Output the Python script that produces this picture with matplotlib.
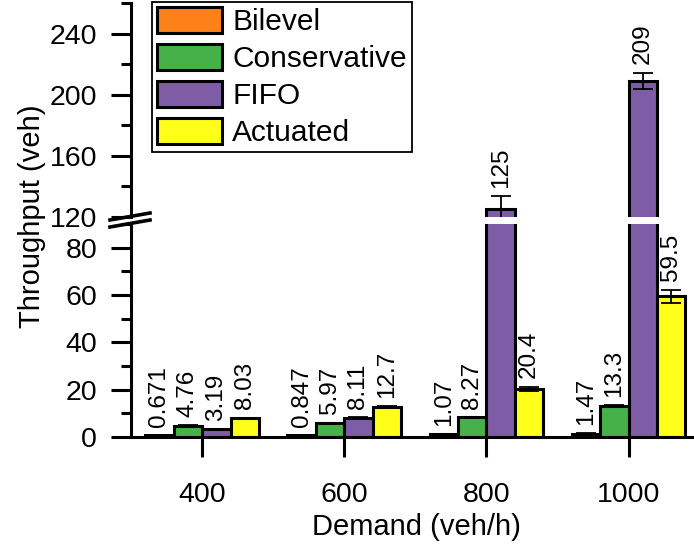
import matplotlib
matplotlib.use("Agg")
import matplotlib.pyplot as plt
from matplotlib.lines import Line2D
import numpy as np

plt.rcParams['font.family'] = ['Liberation Sans', 'DejaVu Sans']

demand = [400, 600, 800, 1000]
series_names = ["Bilevel", "Conservative", "FIFO", "Actuated"]
bilevel = [0.671, 0.847, 1.07, 1.47]
conservative = [4.76, 5.97, 8.27, 13.3]
fifo = [3.19, 8.11, 125, 209]
actuated = [8.03, 12.7, 20.4, 59.5]
bilevel_err = [0.05, 0.05, 0.05, 0.05]
conservative_err = [0.1, 0.1, 0.15, 0.2]
fifo_err = [0.1, 0.2, 8.5, 5.5]
actuated_err = [0.2, 0.4, 0.8, 2.8]
value_labels = [["0.671", "0.847", "1.07", "1.47"],
                ["4.76", "5.97", "8.27", "13.3"],
                ["3.19", "8.11", "125", "209"],
                ["8.03", "12.7", "20.4", "59.5"]]
colors = ["#FB8118", "#46B149", "#7F5CA6", "#FFFF1A"]

values = [bilevel, conservative, fifo, actuated]
errors = [bilevel_err, conservative_err, fifo_err, actuated_err]

W, H = 694, 549
fig = plt.figure(figsize=(W / 100, H / 100), dpi=100)

def fx(px):
    return px / W

def fy(py):
    return (H - py) / H

left = fx(131)
width = fx(694) - left
ax_lo = fig.add_axes([left, fy(437), width, fy(224) - fy(437)])
ax_hi = fig.add_axes([left, fy(217), width, fy(3) - fy(217)])

bw = 40
offsets = [-60, -20, 20, 60]
lw = 2.2
fs = 20.5

for ax in (ax_lo, ax_hi):
    for i, (name, vals, errs, col) in enumerate(zip(series_names, values, errors, colors)):
        xs = np.array(demand) + offsets[i]
        ax.bar(xs, vals, width=bw, color=col, edgecolor='black', linewidth=lw,
               label=name, zorder=2)
        ax.errorbar(xs, vals, yerr=errs, fmt='none', ecolor='black',
                    elinewidth=1.3, capsize=7, capthick=1.3, zorder=3)
    ax.set_xlim(300, 1092)
    for s in ('top', 'right'):
        ax.spines[s].set_visible(False)
    ax.spines['left'].set_linewidth(lw)
    ax.tick_params(axis='y', which='major', length=14.4, width=lw, labelsize=fs, pad=10)
    ax.tick_params(axis='y', which='minor', length=7.2, width=lw)

ax_lo.set_ylim(0, 90)
ax_hi.set_ylim(120, 260)
ax_lo.set_yticks([0, 20, 40, 60, 80])
ax_lo.set_yticks([10, 30, 50, 70, 90], minor=True)
ax_hi.set_yticks([120, 160, 200, 240])
ax_hi.set_yticks([140, 180, 220, 260], minor=True)

ax_hi.spines['bottom'].set_visible(False)
ax_hi.tick_params(axis='x', which='both', bottom=False, labelbottom=False)

ax_lo.spines['bottom'].set_linewidth(lw)
ax_lo.set_xticks(demand)
ax_lo.set_xticklabels([str(d) for d in demand])
ax_lo.tick_params(axis='x', which='major', length=14.4, width=lw, labelsize=fs, pad=18)

# value labels
for i in range(4):
    for j in range(4):
        v = values[i][j]
        top = v + errors[i][j]
        ax = ax_hi if v > 90 else ax_lo
        ax.annotate(value_labels[i][j], xy=(demand[j] + offsets[i], top),
                    xytext=(0, 6), textcoords='offset points',
                    rotation=90, ha='center', va='bottom', fontsize=17.5,
                    annotation_clip=False, zorder=4)

# axis break marks
for (y0, y1) in [(220, 213), (227, 220)]:
    fig.add_artist(Line2D([fx(110), fx(150)], [fy(y0), fy(y1)],
                          transform=fig.transFigure, color='black', linewidth=2.6))

# legend
handles, labels = ax_hi.get_legend_handles_labels()
leg = fig.legend(handles[:4], labels[:4], loc='upper left',
                 bbox_to_anchor=(fx(152), fy(2)), bbox_transform=fig.transFigure,
                 fontsize=21.5, frameon=True, fancybox=False, framealpha=1,
                 edgecolor='black', handlelength=2.17, handleheight=0.97,
                 labelspacing=0.26, handletextpad=0.36, borderpad=0.16,
                 borderaxespad=0)
leg.get_frame().set_linewidth(1.3)

fig.text(fx(32), fy(216), "Throughput (veh)", rotation=90, ha='center', va='center', fontsize=21)
fig.text(fx(416), fy(527), "Demand (veh/h)", ha='center', va='center', fontsize=21)

fig.savefig("out.png", dpi=100)
